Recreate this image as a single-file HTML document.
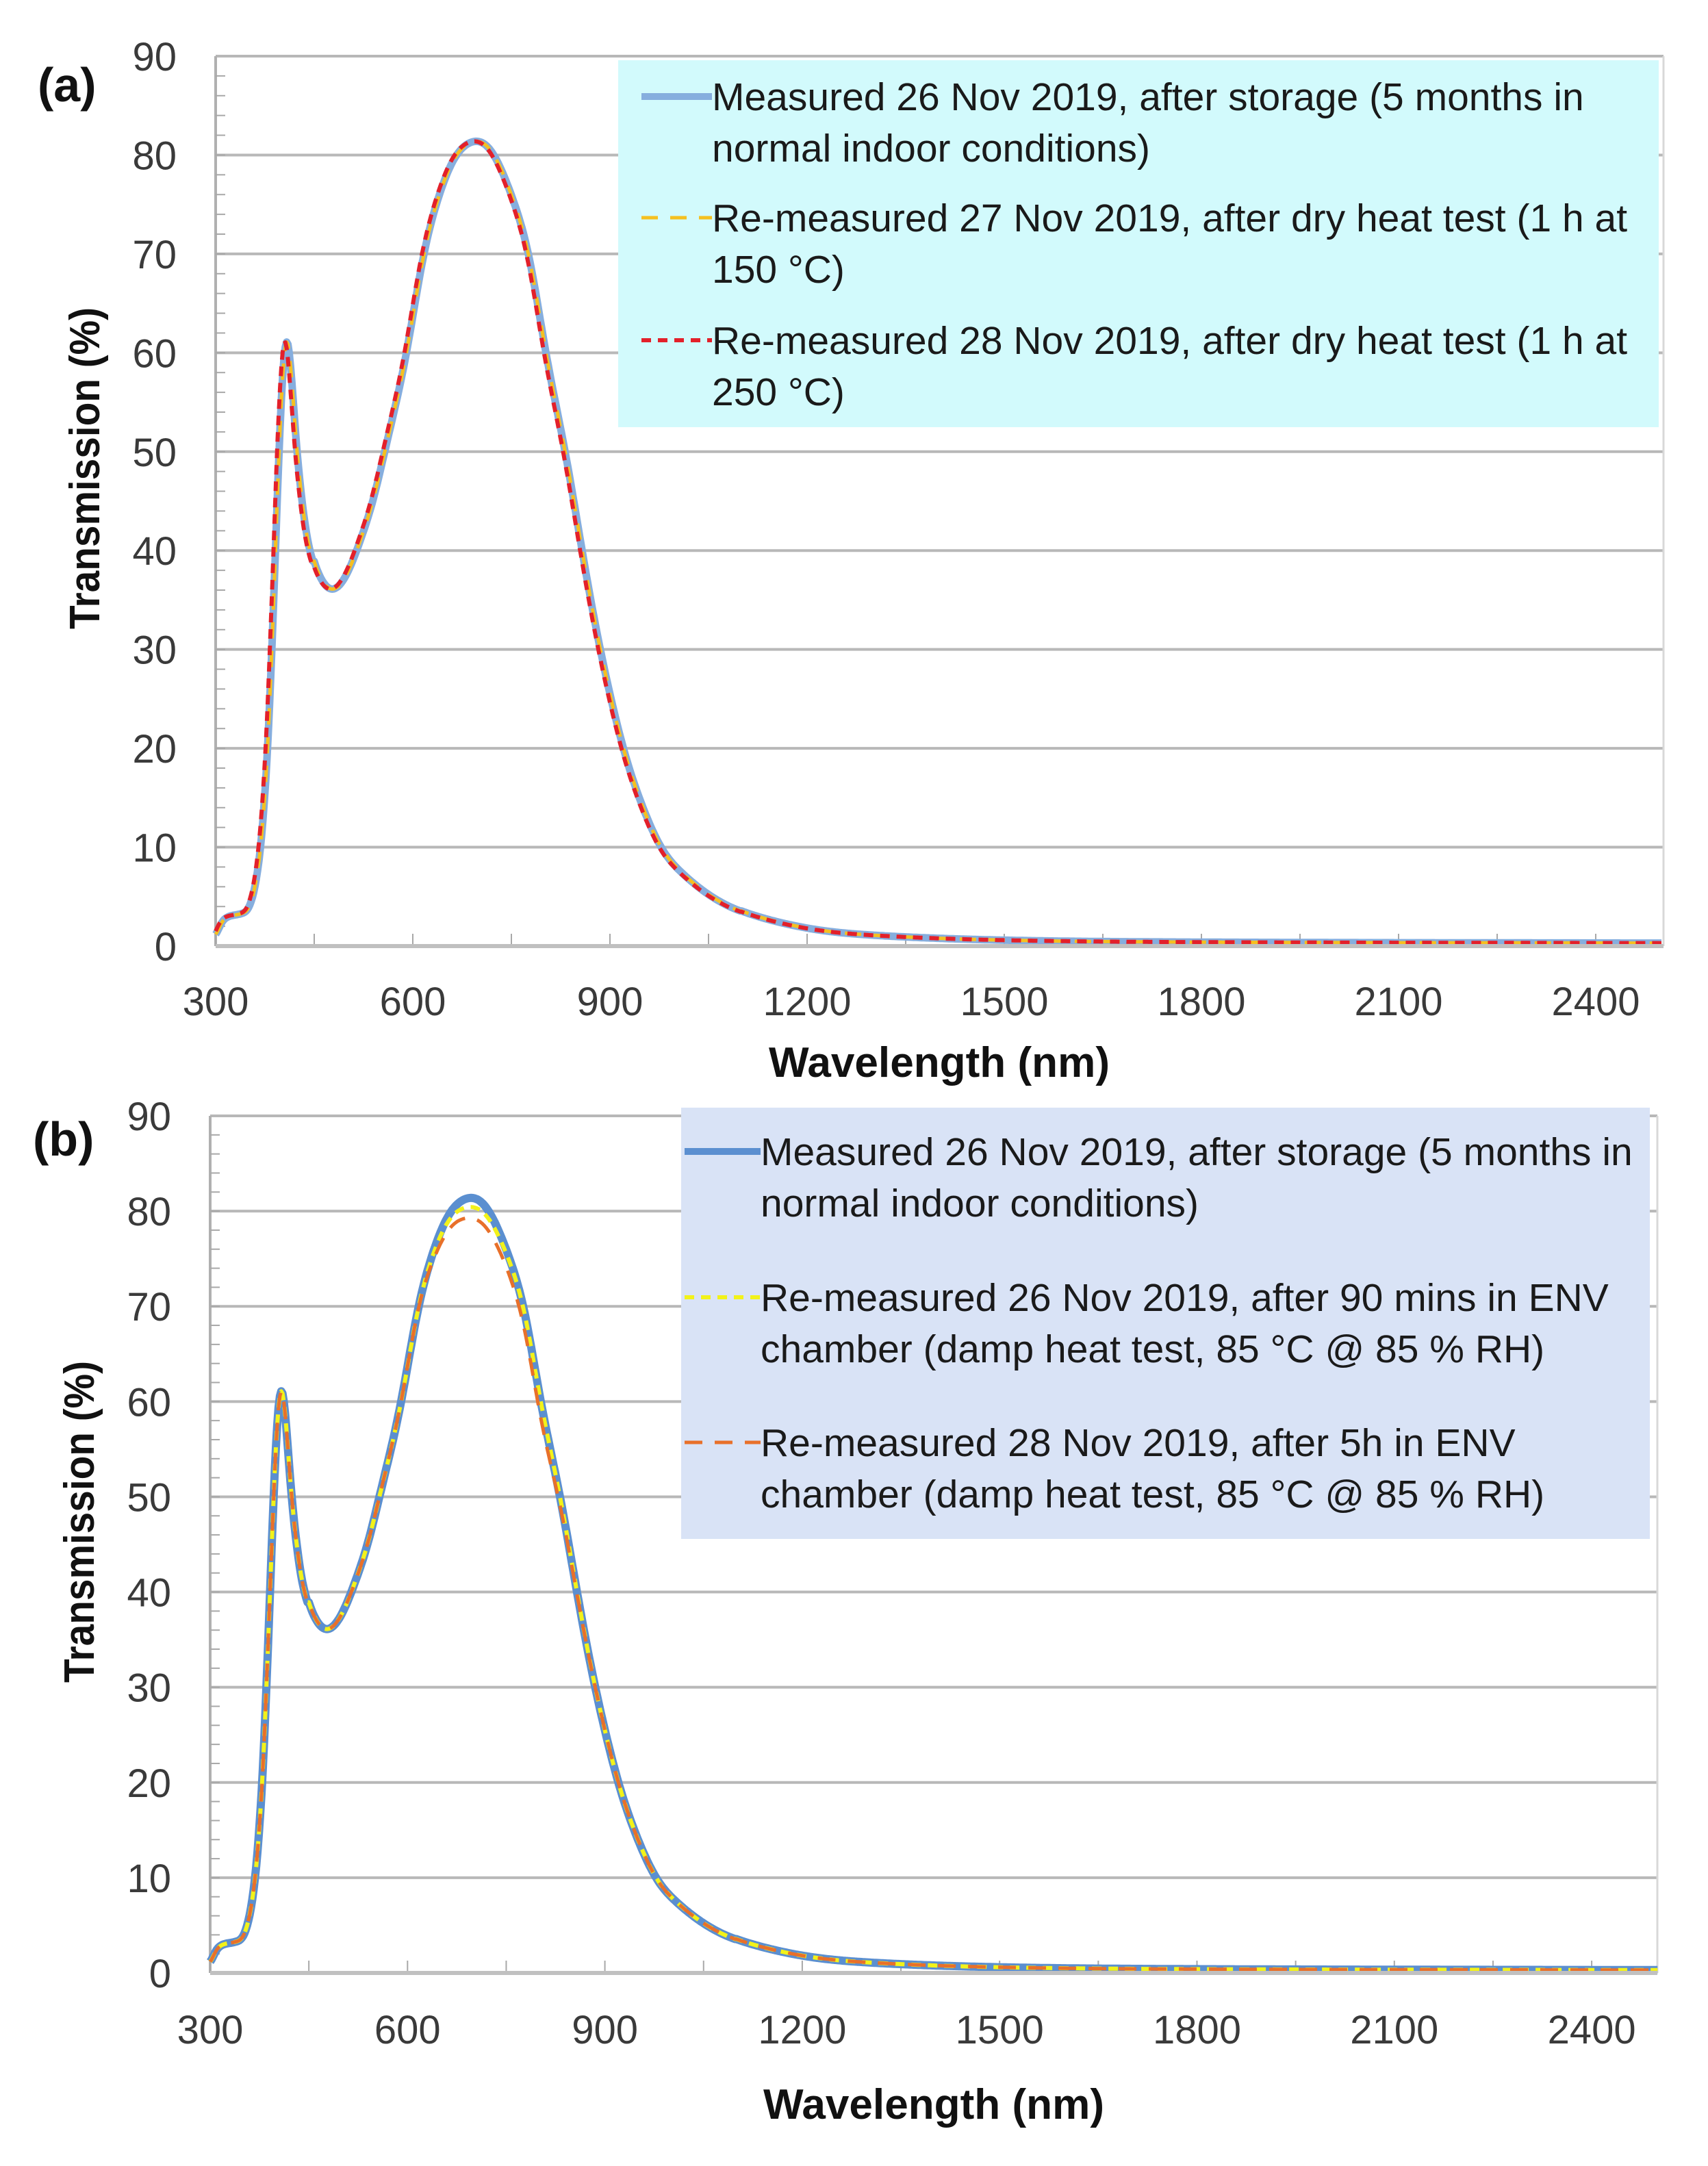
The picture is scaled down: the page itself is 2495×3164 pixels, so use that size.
<!DOCTYPE html>
<html><head><meta charset="utf-8"><style>
html,body{margin:0;padding:0;background:#fff;}
svg{display:block;}
text{font-family:"Liberation Sans",sans-serif;}
</style></head><body>
<svg id="s" width="2495" height="3164" xmlns="http://www.w3.org/2000/svg"></svg>
<script>
const S=document.getElementById('s');
let h='';
const base=[[300,1.0],[310,2.5],[320,3.0],[340,3.3],[350,3.8],[360,6],[370,11],[380,21],[390,38],[398,53],[404,60],[409,62],[415,58],[425,49],[440,41],[460,37],[478,35.8],[500,37.5],[520,41],[540,45],[557,50],[575,55],[591,60],[616,70],[640,76],[665,80],[695,81.5],[720,80.5],[750,76],[777,70],[802,60],[820,54],[835,49],[860,39],[885,30],[920,20],[950,14],[977,10],[1000,8],[1050,5.2],[1100,3.5],[1200,1.8],[1300,1.1],[1500,0.6],[1800,0.4],[2500,0.3]];
function interp(pts,x){if(x<=pts[0][0])return pts[0][1];for(let i=1;i<pts.length;i++){if(x<=pts[i][0]){const a=pts[i-1],b=pts[i];const t=(x-a[0])/(b[0]-a[0]);
 const p0=pts[Math.max(0,i-2)],p3=pts[Math.min(pts.length-1,i+1)];
 const m1=(b[1]-p0[1])/(b[0]-p0[0])*(b[0]-a[0]);const m2=(p3[1]-a[1])/(p3[0]-a[0])*(b[0]-a[0]);
 const t2=t*t,t3=t2*t;return (2*t3-3*t2+1)*a[1]+(t3-2*t2+t)*m1+(-2*t3+3*t2)*b[1]+(t3-t2)*m2;}}return pts[pts.length-1][1];}
function smoothSeries(pts){
 const raw=[];for(let nm=270;nm<=2530;nm++)raw.push(interp(pts,nm));
 const out=[];
 for(let nm=300;nm<=2500;nm+=2){
  const sig=nm<450?3:(nm<1100?9:20);let s=0,w=0;
  for(let k=-3*sig;k<=3*sig;k++){const idx=nm+k-270;if(idx<0||idx>=raw.length)continue;const ww=Math.exp(-k*k/(2*sig*sig));s+=raw[idx]*ww;w+=ww;}
  out.push([nm,s/w]);}
 return out;}
function panel(o){
 const X=nm=>o.x0+(nm-300)*o.kx, Y=v=>o.y0-v*o.ky;
 for(let v=10;v<=90;v+=10){h+=`<line x1="${o.x0}" x2="${o.xr}" y1="${Y(v)}" y2="${Y(v)}" stroke="#b8b8b8" stroke-width="4"/>`;}
 h+=`<line x1="${o.xr}" x2="${o.xr}" y1="${Y(90)}" y2="${o.y0}" stroke="#d8d8d8" stroke-width="3"/>`;
 h+=`<line x1="${o.x0}" x2="${o.x0}" y1="${Y(90)}" y2="${o.y0}" stroke="#b0b0b0" stroke-width="4"/>`;
 for(let v=0;v<90;v+=2){h+=`<line x1="${o.x0}" x2="${o.x0+14}" y1="${Y(v)}" y2="${Y(v)}" stroke="#a8a8a8" stroke-width="2"/>`;}
 for(let nm=300;nm<=2400;nm+=150){h+=`<line x1="${X(nm)}" x2="${X(nm)}" y1="${o.y0}" y2="${o.y0-18}" stroke="#a8a8a8" stroke-width="2"/>`;}
 h+=`<rect x="${o.lx}" y="${o.ly}" width="${o.lw}" height="${o.lh}" fill="${o.lbg}"/>`;
 o.series.forEach(s=>{const sp=smoothSeries(s.pts);let d='';sp.forEach(([nm,v])=>{d+=(d?'L':'M')+X(nm).toFixed(1)+','+Y(v).toFixed(1);});
  h+=`<path d="${d}" fill="none" stroke="${s.c}" stroke-width="${s.w}" ${s.dash?'stroke-dasharray="'+s.dash+'"':''} stroke-linejoin="round"/>`;});
 h+=`<line x1="${o.x0}" x2="${o.xr}" y1="${o.y0}" y2="${o.y0}" stroke="#c0c0c0" stroke-width="6"/>`;
 for(let v=0;v<=90;v+=10){h+=`<text x="${o.ylx}" y="${Y(v)+21}" font-size="58" text-anchor="end" fill="#3a3a3a">${v}</text>`;}
 for(let nm=300;nm<=2400;nm+=300){h+=`<text x="${X(nm)}" y="${o.xly}" font-size="58" text-anchor="middle" fill="#3a3a3a">${nm}</text>`;}
 h+=`<text x="${o.xtc}" y="${o.xty}" font-size="62" font-weight="bold" text-anchor="middle" fill="#111" textLength="498" lengthAdjust="spacingAndGlyphs">Wavelength (nm)</text>`;
 h+=`<text transform="translate(${o.ytx},${o.yty}) rotate(-90)" font-size="62" font-weight="bold" text-anchor="middle" fill="#111" textLength="470" lengthAdjust="spacingAndGlyphs">Transmission (%)</text>`;
 h+=`<text x="${o.tagx}" y="${o.tagy}" font-size="70" font-weight="bold" fill="#111">${o.tag}</text>`;
 o.leg.forEach(e=>{h+=`<line x1="${o.sx1}" x2="${o.sx2}" y1="${e.y}" y2="${e.y}" stroke="${e.c}" stroke-width="${e.w}" ${e.dash?'stroke-dasharray="'+e.dash+'"':''}/>`;
  e.t.forEach((t,i)=>{h+=`<text x="${o.tx}" y="${e.y+20+i*75}" font-size="57" fill="#1a1a1a">${t}</text>`;});});
}
const g=(x,c,w)=>Math.exp(-Math.pow((x-c)/w,2));
const orangePts=base.map(([x,v])=>[x, (x>=620&&x<=880)? v-2.2*g(x,705,70)-1.5*g(x,800,40):v]);
const yelPts=base.map(([x,v])=>[x, (x>=620&&x<=780)? v-1*g(x,700,50):v]);
const redPts=base.map(([x,v])=>[x-3,v]);
panel({x0:315,xr:2430,kx:0.96,y0:1382,ky:(1382-82)/90,lx:903,ly:88,lw:1520,lh:536,lbg:"#d2fafc",
 ylx:258,xly:1483,xtc:1372,xty:1573,ytx:145,yty:684,tag:"(a)",tagx:55,tagy:148,sx1:937,sx2:1040,tx:1040,
 series:[{pts:base,c:"#86aede",w:11},{pts:base,c:"#f5c020",w:5,dash:"24 18"},{pts:redPts,c:"#e3202a",w:6,dash:"14 10"}],
 leg:[{y:141,c:"#86aede",w:10,t:["Measured 26 Nov 2019, after storage (5 months in","normal indoor conditions)"]},
 {y:318,c:"#f5c020",w:5,dash:"24 18",t:["Re-measured 27 Nov 2019, after dry heat test (1 h at","150 °C)"]},
 {y:497,c:"#e3202a",w:6,dash:"14 10",t:["Re-measured 28 Nov 2019, after dry heat test (1 h at","250 °C)"]}]});
panel({x0:307,xr:2421,kx:0.961,y0:2882,ky:(2882-1630)/90,lx:995,ly:1618,lw:1415,lh:630,lbg:"#d9e3f6",
 ylx:250,xly:2985,xtc:1364,xty:3095,ytx:137,yty:2223,tag:"(b)",tagx:48,tagy:1688,sx1:1000,sx2:1111,tx:1111,
 series:[{pts:base,c:"#5b8fd0",w:12},{pts:yelPts,c:"#f2f21a",w:6,dash:"14 10"},{pts:orangePts,c:"#e8702a",w:5,dash:"26 18"}],
 leg:[{y:1682,c:"#5b8fd0",w:10,t:["Measured 26 Nov 2019, after storage (5 months in","normal indoor conditions)"]},
 {y:1895,c:"#f2f21a",w:6,dash:"14 10",t:["Re-measured 26 Nov 2019, after 90 mins in ENV","chamber (damp heat test, 85 °C @ 85 % RH)"]},
 {y:2107,c:"#e8702a",w:5,dash:"26 18",t:["Re-measured 28 Nov 2019, after 5h  in ENV","chamber (damp heat test, 85 °C @ 85 % RH)"]}]});
S.innerHTML=h;
</script>
</body></html>
